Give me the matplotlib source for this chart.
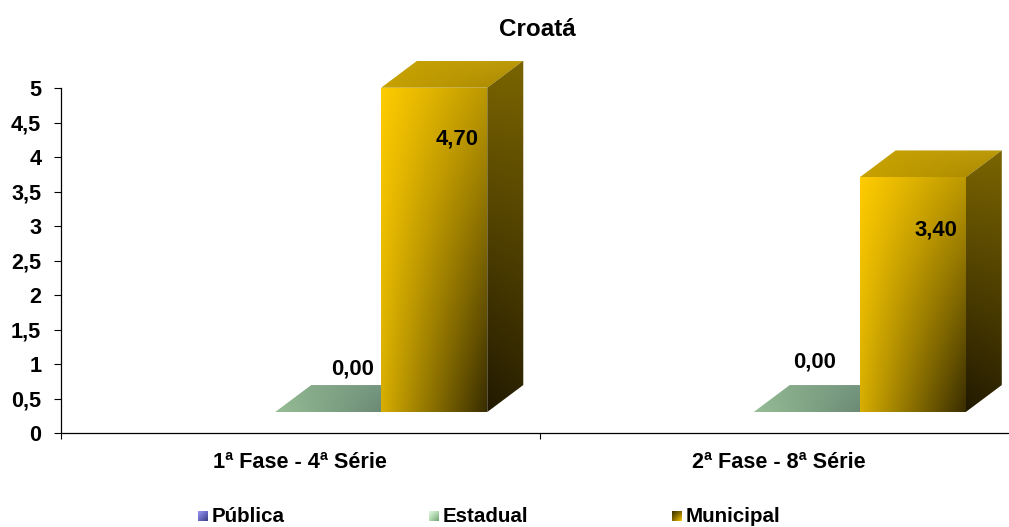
"""
Croata chart - fake 3D bars with gradient faces
"""

import numpy as np
import matplotlib
matplotlib.use("Agg")
import matplotlib.pyplot as plt
from matplotlib.colors import to_rgb
from matplotlib.patches import Polygon

plt.rcParams['font.family'] = ['Liberation Sans', 'DejaVu Sans']
plt.rcParams['font.weight'] = 'bold'

# data
TITLE = "Croatá"
CATEGORIES = ["1ª Fase - 4ª Série", "2ª Fase - 8ª Série"]
SERIES = ["Pública", "Estadual", "Municipal"]
ESTADUAL = [0.00, 0.00]
MUNICIPAL = [4.70, 3.40]
Y_TICKS = [0, 0.5, 1, 1.5, 2, 2.5, 3, 3.5, 4, 4.5, 5]

# fake 3D geometry, in axis units
BAR_W = 0.2218
DEPTH_X = 0.0753
DEPTH_Y = 0.391
FLOOR = 0.304
EST_START = 0.4477
MUN_START = 0.669

# corner colours: top left, top right, bottom left, bottom right
MUN_FRONT = ("#ffcc00", "#bc9800", "#d6ad00", "#382d00")
MUN_TOP = ("#c6a200", "#bd9a0c", "#c8a200", "#a68600")
MUN_SIDE = ("#7a6400", "#7a6400", "#211900", "#2a2100")
EST_TOP = ("#8fb58f", "#6c8c7a", "#96be96", "#5c7868")


def gradient(corners, n=64):
    tl, tr, bl, br = [np.array(to_rgb(c)) for c in corners]
    v, u = np.mgrid[0:1:n * 1j, 0:1:n * 1j]
    u = u[..., None]
    v = v[..., None]
    return (1 - v) * ((1 - u) * tl + u * tr) + v * ((1 - u) * bl + u * br)


def shaded_poly(ax, pts, corners, zorder):
    xs = [p[0] for p in pts]
    ys = [p[1] for p in pts]
    im = ax.imshow(gradient(corners), extent=(min(xs), max(xs), min(ys), max(ys)),
                   origin='upper', aspect='auto', zorder=zorder, interpolation='bilinear')
    # top faces stick out above the axes, so clip to the figure and the polygon only
    im.set_clip_box(ax.figure.bbox)
    im.set_clip_path(Polygon(pts, closed=True, transform=ax.transData))


def draw_bar(ax, x0, value, front, top, side, zorder):
    x1 = x0 + BAR_W
    y0 = FLOOR
    y1 = FLOOR + value
    shaded_poly(ax, [(x0, y1), (x0 + DEPTH_X, y1 + DEPTH_Y), (x1 + DEPTH_X, y1 + DEPTH_Y), (x1, y1)], top, zorder)
    if value > 0:
        shaded_poly(ax, [(x0, y0), (x0, y1), (x1, y1), (x1, y0)], front, zorder + 1)
        shaded_poly(ax, [(x1, y0), (x1, y1), (x1 + DEPTH_X, y1 + DEPTH_Y), (x1 + DEPTH_X, y0 + DEPTH_Y)], side, zorder)


fig = plt.figure(figsize=(10.09, 5.27), dpi=100)
ax = fig.add_axes([61 / 1009, (527 - 433) / 527, 957 / 1009, 345 / 527])

for i in range(len(CATEGORIES)):
    draw_bar(ax, i + EST_START, ESTADUAL[i], None, EST_TOP, None, 2)
    draw_bar(ax, i + MUN_START, MUNICIPAL[i], MUN_FRONT, MUN_TOP, MUN_SIDE, 4)

ax.set_xlim(0, 2)
ax.set_ylim(0, 5)
ax.spines['top'].set_visible(False)
ax.spines['right'].set_visible(False)
ax.spines['left'].set_linewidth(0.9)
ax.spines['bottom'].set_linewidth(0.9)
ax.set_yticks(Y_TICKS)
ax.set_yticklabels([str(t).replace('.', ',') for t in Y_TICKS], fontsize=15.6, fontweight='bold')
ax.set_xticks([0, 1, 2])
ax.set_xticklabels([])
ax.set_xticks([0.5, 1.5], minor=True)
ax.set_xticklabels(CATEGORIES, minor=True, fontsize=15.6, fontweight='bold')
ax.tick_params(axis='x', which='minor', length=0, pad=14)
ax.tick_params(axis='x', which='major', length=4.5, width=0.8)
ax.tick_params(axis='y', length=5, width=0.8, pad=9.2)

# value labels, hand placed in the original
fmt = lambda v: f"{v:.2f}".replace('.', ',')
ax.text(0.609, 0.93, fmt(ESTADUAL[0]), ha='center', va='center', fontsize=15.8, zorder=9)
ax.text(1.575, 1.03, fmt(ESTADUAL[1]), ha='center', va='center', fontsize=15.8, zorder=9)
ax.text(0.828, 4.26, fmt(MUNICIPAL[0]), ha='center', va='center', fontsize=15.8, zorder=9)
ax.text(1.828, 2.945, fmt(MUNICIPAL[1]), ha='center', va='center', fontsize=15.8, zorder=9)

fig.text(537 / 1009, 1 - 29.5 / 527, TITLE, ha='center', va='center', fontsize=17.5, fontweight='bold')

# legend, swatches are tiny gradient axes
LEG_SWATCH = [("#9a9af0", "#6a6ac8", "#6a6ac8", "#3c3c80"),
              ("#e4f8e4", "#b4dcb4", "#b4dcb4", "#6ea06e"),
              ("#3a2e00", "#806800", "#806800", "#ffcc00")]
LEG_X = [198, 429, 672]
for name, cols, lx in zip(SERIES, LEG_SWATCH, LEG_X):
    sw = fig.add_axes([lx / 1009, 1 - 521 / 527, 10 / 1009, 10 / 527])
    sw.imshow(gradient(cols), aspect='auto', interpolation='bilinear')
    sw.axis('off')
    fig.text((lx + 14) / 1009, 1 - 516.5 / 527, name, ha='left', va='center', fontsize=14.8, fontweight='bold')

plt.savefig("out.png", dpi=100)
